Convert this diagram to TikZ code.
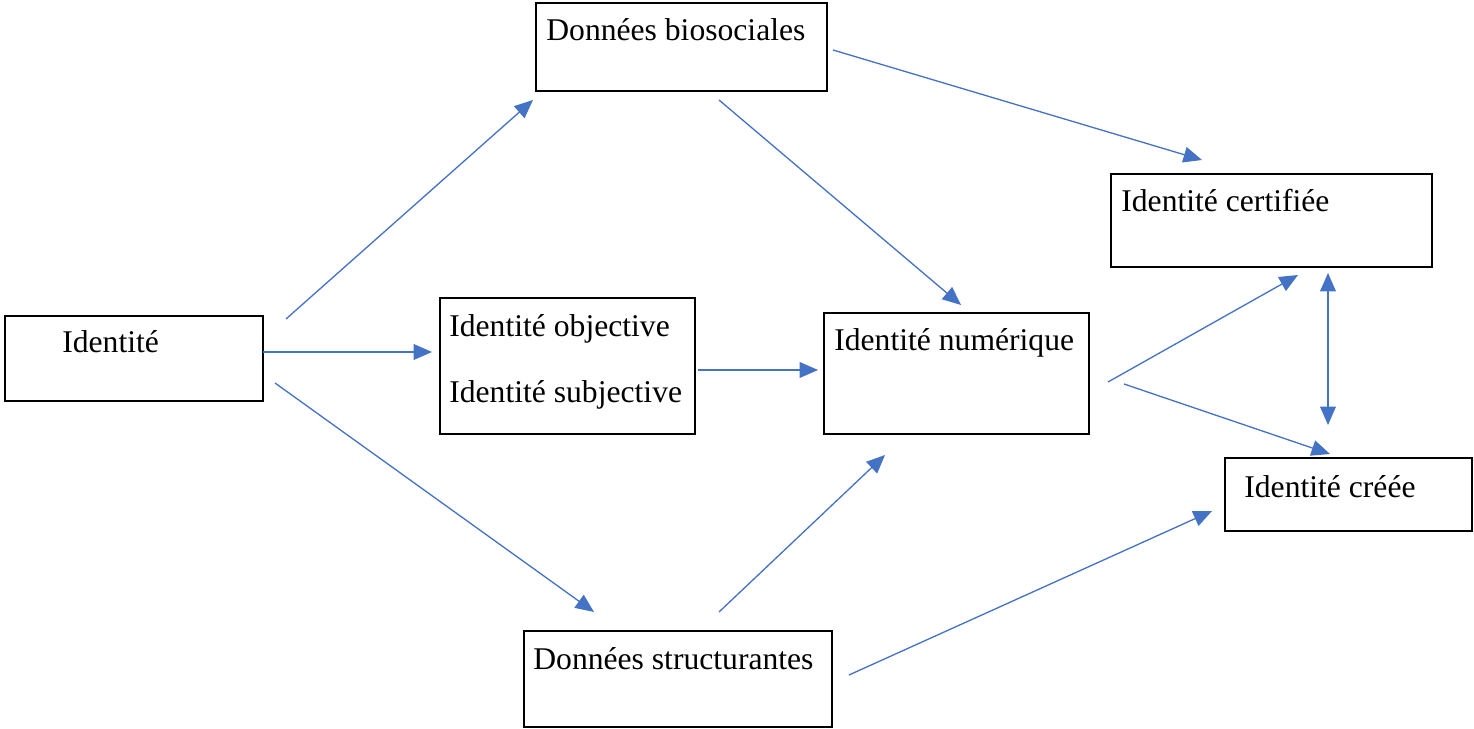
\documentclass[tikz,border=0pt]{standalone}
\usepackage{fontspec}
\setmainfont{Liberation Serif}
\usetikzlibrary{arrows.meta,fit}
\definecolor{flow}{HTML}{4472C4}
\tikzset{
  box/.style={draw=black, line width=1.1pt, inner sep=0pt},
  lbl/.style={anchor=base west, inner sep=0pt, font=\fontsize{18}{20}\selectfont},
  fl/.style={draw=flow, line width=0.75pt, -{Triangle[length=10.5pt,width=9pt]}},
}
\begin{document}
\begin{tikzpicture}[x=0.02cm,y=-0.02cm]
\useasboundingbox (0,0) rectangle (1474,729);

\node[box, fit={(536,3) (827,91)}] (bio) {};
\node[box, fit={(1111,174) (1432,267)}] (cert) {};
\node[box, fit={(5,316) (263,401)}] (id) {};
\node[box, fit={(440,298) (695,434)}] (obj) {};
\node[box, fit={(824,313) (1089,434)}] (num) {};
\node[box, fit={(1225,458) (1472,531)}] (cree) {};
\node[box, fit={(524,631) (832,727)}] (struct) {};

\node[lbl] (tbio) at (546,41) {Données biosociales};
\node[lbl] (tcert) at (1121,212) {Identité certifiée};
\node[lbl] (tid) at (62,353) {Identité};
\node[lbl] (tobj) at (449,337) {Identité objective};
\node[lbl] (tsubj) at (449,402) {Identité subjective};
\node[lbl] (tnum) at (834,351) {Identité numérique};
\node[lbl] (tcree) at (1244,497) {Identité créée};
\node[lbl] (tstruct) at (533,669) {Données structurantes};

\coordinate (a1) at (286,319);   \coordinate (b1) at (533,100);
\coordinate (a2) at (263,352);   \coordinate (b2) at (432,352);
\coordinate (a3) at (275,383);   \coordinate (b3) at (594,612);
\coordinate (a4) at (719,100);   \coordinate (b4) at (961,305);
\coordinate (a5) at (833,50);    \coordinate (b5) at (1202,160);
\coordinate (a6) at (698,370);   \coordinate (b6) at (818,370);
\coordinate (a7) at (719,612);   \coordinate (b7) at (885,455);
\coordinate (a8) at (1108,382);  \coordinate (b8) at (1298,275);
\coordinate (a9) at (1124,384);  \coordinate (b9) at (1330,454);
\coordinate (a10) at (1328,273); \coordinate (b10) at (1328,425);
\coordinate (a11) at (849,675);  \coordinate (b11) at (1212,511);

\draw[fl] (a1) -- (b1);
\draw[fl] (a2) -- (b2);
\draw[fl] (a3) -- (b3);
\draw[fl] (a4) -- (b4);
\draw[fl] (a5) -- (b5);
\draw[fl] (a6) -- (b6);
\draw[fl] (a7) -- (b7);
\draw[fl] (a8) -- (b8);
\draw[fl] (a9) -- (b9);
\draw[fl, {Triangle[length=10.5pt,width=9pt]}-{Triangle[length=10.5pt,width=9pt]}] (a10) -- (b10);
\draw[fl] (a11) -- (b11);

\end{tikzpicture}
\end{document}
